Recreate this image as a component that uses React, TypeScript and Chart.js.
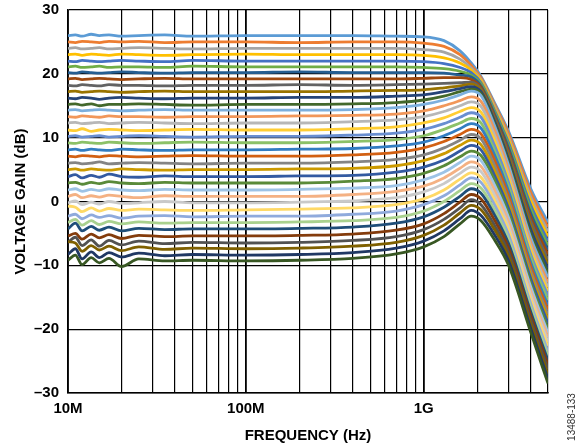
import React, { useEffect, useRef } from 'react';
import { Chart, registerables } from 'chart.js';

Chart.register(...registerables);

// Frequency points (MHz)
const FREQ_MHZ = [10, 11, 12, 13.5, 15, 17, 20, 25, 35, 50, 100, 200, 400, 700, 1000, 1300, 1600, 1850, 2100, 2500, 3000, 4000, 5000];

// Voltage gain (dB) per gain setting, top to bottom
const gain26 = [26.0, 26.1, 25.9, 26.2, 26.0, 26.1, 25.9, 26.0, 26.1, 25.9, 26.0, 26.0, 26.0, 25.9, 25.8, 25.2, 23.6, 21.7, 19.6, 15.5, 11.0, 2.0, -3.3];
const gain25 = [25.0, 24.9, 25.1, 25.0, 24.9, 25.1, 25.0, 25.1, 24.9, 25.0, 25.0, 24.9, 25.0, 25.0, 24.8, 24.3, 23.0, 21.3, 19.4, 15.2, 10.6, 1.4, -4.0];
const gain24 = [24.0, 24.1, 23.9, 24.0, 24.1, 23.9, 24.0, 24.1, 24.0, 23.9, 24.0, 24.0, 24.0, 24.0, 23.8, 23.4, 22.3, 20.9, 19.1, 14.9, 10.1, 0.7, -4.7];
const gain23 = [23.0, 23.1, 22.9, 23.1, 23.0, 22.9, 23.1, 23.0, 22.9, 23.0, 23.1, 23.0, 23.0, 23.0, 22.9, 22.5, 21.7, 20.6, 18.9, 14.6, 9.7, 0.1, -5.5];
const gain22 = [22.0, 21.9, 22.1, 22.0, 21.9, 22.0, 22.1, 22.0, 21.9, 22.1, 22.0, 22.0, 22.0, 22.0, 21.9, 21.6, 21.0, 20.2, 18.6, 14.3, 9.2, -0.6, -6.2];
const gain21 = [21.1, 21.2, 21.0, 21.1, 21.2, 21.0, 21.1, 21.1, 21.0, 21.2, 21.1, 21.1, 21.1, 21.1, 21.0, 20.8, 20.4, 19.8, 18.4, 14.0, 8.8, -1.2, -6.9];
const gain20 = [20.2, 20.1, 20.3, 20.2, 20.1, 20.2, 20.3, 20.2, 20.1, 20.2, 20.2, 20.3, 20.2, 20.2, 20.2, 20.1, 19.8, 19.5, 18.1, 13.7, 8.4, -1.9, -7.6];
const gain19 = [19.2, 19.3, 19.1, 19.2, 19.3, 19.2, 19.1, 19.2, 19.3, 19.2, 19.2, 19.2, 19.2, 19.2, 19.3, 19.4, 19.4, 19.1, 17.9, 13.4, 7.9, -2.5, -8.3];
const gain18 = [18.2, 18.1, 18.3, 18.2, 18.1, 18.3, 18.2, 18.2, 18.1, 18.2, 18.2, 18.3, 18.2, 18.3, 18.4, 18.5, 18.6, 18.7, 17.6, 13.1, 7.5, -3.1, -9.1];
const gain17 = [17.2, 17.3, 17.1, 17.2, 17.3, 17.2, 17.1, 17.2, 17.3, 17.2, 17.2, 17.2, 17.3, 17.4, 17.5, 17.8, 18.1, 18.4, 17.4, 12.8, 7.0, -3.8, -9.8];
const gain16 = [16.2, 16.1, 16.3, 16.2, 16.0, 16.2, 16.3, 16.2, 16.1, 16.2, 16.2, 16.3, 16.3, 16.5, 16.7, 17.2, 17.7, 18.0, 17.2, 12.6, 6.6, -4.4, -10.5];
const gain15 = [15.2, 15.3, 15.1, 15.3, 15.0, 15.2, 15.2, 15.3, 15.2, 15.1, 15.2, 15.2, 15.3, 15.5, 15.9, 16.5, 17.2, 17.6, 16.9, 12.2, 6.1, -5.1, -11.2];
const gain14 = [14.3, 14.4, 14.2, 14.3, 14.4, 14.3, 14.2, 14.3, 14.4, 14.3, 14.3, 14.3, 14.4, 14.7, 15.2, 15.9, 16.7, 17.3, 16.6, 11.9, 5.7, -5.7, -11.9];
const gain13 = [13.3, 13.2, 13.4, 13.3, 13.2, 13.4, 13.3, 13.3, 13.2, 13.3, 13.3, 13.4, 13.5, 13.7, 14.2, 15.0, 15.8, 16.4, 15.7, 11.2, 5.0, -6.4, -12.7];
const gain12 = [12.3, 12.4, 12.2, 12.3, 12.4, 12.2, 12.3, 12.4, 12.3, 12.2, 12.3, 12.3, 12.5, 12.8, 13.3, 14.1, 15.0, 15.6, 14.9, 10.4, 4.3, -7.0, -13.4];
const gain11 = [11.2, 11.1, 11.4, 11.0, 11.2, 11.3, 11.2, 11.1, 11.2, 11.3, 11.2, 11.2, 11.4, 11.7, 12.3, 13.1, 14.1, 14.7, 14.0, 9.6, 3.7, -7.6, -14.1];
const gain10 = [10.2, 10.3, 10.1, 10.2, 10.3, 10.1, 10.2, 10.3, 10.2, 10.1, 10.2, 10.2, 10.4, 10.7, 11.3, 12.2, 13.2, 13.9, 13.2, 8.8, 3.0, -8.3, -14.8];
const gain9 = [9.2, 9.1, 9.3, 9.2, 9.1, 9.3, 9.2, 9.1, 9.2, 9.3, 9.2, 9.2, 9.4, 9.7, 10.3, 11.3, 12.3, 13.0, 12.3, 8.0, 2.3, -8.9, -15.5];
const gain8 = [8.1, 8.2, 8.0, 8.2, 8.1, 8.0, 8.2, 8.1, 8.0, 8.1, 8.1, 8.2, 8.3, 8.7, 9.3, 10.3, 11.4, 12.2, 11.5, 7.3, 1.6, -9.6, -16.3];
const gain7 = [7.1, 7.0, 7.2, 7.1, 7.0, 7.2, 7.1, 7.0, 7.1, 7.2, 7.1, 7.1, 7.3, 7.7, 8.4, 9.4, 10.5, 11.3, 10.6, 6.5, 0.9, -10.2, -17.0];
const gain6 = [6.0, 6.1, 5.9, 6.0, 6.2, 5.9, 6.0, 6.1, 6.0, 5.9, 6.0, 6.0, 6.2, 6.6, 7.3, 8.4, 9.6, 10.5, 9.8, 5.7, 0.2, -10.9, -17.7];
const gain5 = [5.0, 5.1, 4.9, 5.1, 5.0, 4.9, 5.1, 5.0, 4.9, 5.0, 5.0, 5.1, 5.2, 5.6, 6.4, 7.5, 8.8, 9.6, 8.9, 4.9, -0.4, -11.5, -18.4];
const gain4 = [3.9, 4.2, 3.7, 4.1, 3.8, 4.3, 3.9, 3.8, 4.0, 3.9, 3.9, 4.0, 4.1, 4.6, 5.4, 6.5, 7.9, 8.8, 8.1, 4.1, -1.1, -12.1, -19.1];
const gain3 = [2.9, 3.0, 2.7, 3.0, 2.8, 3.1, 2.9, 2.8, 3.0, 2.9, 2.9, 2.9, 3.2, 3.6, 4.4, 5.6, 7.0, 7.9, 7.2, 3.4, -1.8, -12.8, -19.9];
const gain2 = [1.8, 2.0, 1.6, 1.9, 1.7, 2.0, 1.8, 1.7, 1.9, 1.8, 1.8, 1.9, 2.1, 2.5, 3.4, 4.6, 6.1, 7.1, 6.4, 2.6, -2.5, -13.4, -20.6];
const gain1 = [0.8, 1.1, 0.6, 0.9, 0.7, 1.0, 0.8, 0.6, 0.9, 0.8, 0.8, 0.8, 1.1, 1.6, 2.4, 3.7, 5.2, 6.2, 5.5, 1.8, -3.2, -14.1, -21.3];
const gain0 = [-0.2, 0.1, -0.5, -0.1, -0.4, 0.0, -0.3, -0.2, 0.0, -0.2, -0.2, -0.1, 0.1, 0.6, 1.5, 2.8, 4.4, 5.4, 4.7, 1.0, -3.9, -14.7, -22.0];
const gainM1 = [-0.7, -0.9, -1.6, -1.0, -1.5, -1.1, -1.4, -1.2, -1.3, -1.4, -1.3, -1.2, -1.0, -0.5, 0.4, 1.8, 3.5, 4.5, 3.8, 0.2, -4.5, -15.4, -22.7];
const gainM2 = [-2.3, -2.0, -2.7, -2.1, -2.5, -2.2, -2.6, -2.3, -2.2, -2.4, -2.3, -2.3, -2.0, -1.5, -0.5, 0.9, 2.6, 3.7, 3.0, -0.5, -5.2, -16.0, -23.5];
const gainM3 = [-3.3, -2.8, -3.7, -3.0, -3.6, -3.1, -3.5, -3.2, -3.4, -3.3, -3.3, -3.2, -3.0, -2.5, -1.5, 0.0, 1.7, 2.8, 2.1, -1.3, -5.9, -16.6, -24.2];
const gainM4 = [-4.3, -3.4, -4.6, -3.9, -4.5, -4.0, -4.6, -4.2, -4.4, -4.3, -4.3, -4.2, -4.0, -3.4, -2.4, -0.9, 0.8, 2.0, 1.3, -2.1, -6.6, -17.3, -24.9];
const gainM5 = [-5.4, -5.0, -5.9, -5.1, -5.7, -5.2, -5.8, -5.3, -5.5, -5.4, -5.4, -5.3, -5.1, -4.5, -3.5, -1.9, -0.1, 1.1, 0.4, -2.9, -7.3, -17.9, -25.6];
const gainM6 = [-6.4, -5.6, -6.9, -6.0, -7.0, -6.1, -6.8, -6.2, -6.6, -6.4, -6.5, -6.4, -6.1, -5.5, -4.4, -2.8, -1.0, 0.3, -0.5, -3.7, -8.0, -18.6, -26.3];
const gainM7 = [-6.3, -6.5, -7.8, -6.9, -7.6, -7.0, -7.7, -7.1, -7.5, -7.3, -7.4, -7.3, -7.0, -6.4, -5.3, -3.7, -1.8, -0.6, -1.3, -4.4, -8.6, -19.2, -27.1];
const gainM8 = [-8.3, -7.4, -9.0, -7.9, -8.8, -8.0, -8.7, -8.1, -8.5, -8.3, -8.4, -8.3, -8.0, -7.3, -6.2, -4.6, -2.7, -1.4, -2.2, -5.2, -9.3, -19.9, -27.8];
const gainM9 = [-9.2, -8.4, -9.9, -8.8, -9.6, -8.9, -10.2, -9.0, -9.3, -9.2, -9.3, -9.2, -8.9, -8.2, -7.1, -5.5, -3.5, -2.3, -3.0, -6.0, -10.0, -20.5, -28.5];

const CURVES = [
  gain26, gain25, gain24, gain23, gain22, gain21, gain20, gain19, gain18, gain17, gain16, gain15,
  gain14, gain13, gain12, gain11, gain10, gain9, gain8, gain7, gain6, gain5, gain4, gain3,
  gain2, gain1, gain0, gainM1, gainM2, gainM3, gainM4, gainM5, gainM6, gainM7, gainM8, gainM9,
];

const SERIES_COLORS = [
  '#5B9BD5', '#ED7D31', '#A5A5A5', '#FFC000', '#4472C4', '#70AD47',
  '#255E91', '#9E480E', '#636363', '#997300', '#264478', '#43682B',
  '#7CAFDD', '#F1975A', '#B7B7B7', '#FFCD33', '#698ED0', '#8CC168',
  '#327DC2', '#D26012', '#848484', '#CC9A00', '#335AA1', '#5A8A39',
  '#9DC3E6', '#F4B183', '#C9C9C9', '#FFD966', '#8FAADC', '#A9D18E',
  '#1F4E79', '#843C0C', '#525252', '#7F6000', '#203864', '#385723',
];

const X_TICKS_HZ = [
  1e7, 2e7, 3e7, 4e7, 5e7, 6e7, 7e7, 8e7, 9e7,
  1e8, 2e8, 3e8, 4e8, 5e8, 6e8, 7e8, 8e8, 9e8,
  1e9, 2e9, 3e9, 4e9, 5e9,
];
const X_LABEL_VALUES = [1e7, 1e8, 1e9];
const X_LABEL_TEXTS = ['10M', '100M', '1G'];
const Y_MIN = -30;
const Y_MAX = 30;
const Y_STEP = 10;

const FONT = '"Liberation Sans", Arial, Helvetica, sans-serif';

const watermark = {
  id: 'watermark',
  afterDraw(chart: any) {
    const ctx = chart.ctx;
    ctx.save();
    ctx.translate(572, 417);
    ctx.rotate(-Math.PI / 2);
    ctx.font = `10px ${FONT}`;
    ctx.fillStyle = '#333';
    ctx.textAlign = 'center';
    ctx.textBaseline = 'middle';
    ctx.fillText('13488-133', 0, 0);
    ctx.restore();
  },
};

export default function App() {
  const ref = useRef<HTMLCanvasElement | null>(null);

  useEffect(() => {
    if (!ref.current) return;
    const datasets = CURVES.map((curve, k) => ({
      label: `curve${k}`,
      data: curve.map((y, i) => ({ x: FREQ_MHZ[i] * 1e6, y })),
      borderColor: SERIES_COLORS[k],
      backgroundColor: SERIES_COLORS[k],
      borderWidth: 2.8,
      pointRadius: 0,
      fill: false,
      cubicInterpolationMode: 'monotone' as const,
      order: CURVES.length - 1 - k,
    }));

    const chart = new Chart(ref.current, {
      type: 'line',
      data: { datasets },
      plugins: [watermark],
      options: {
        animation: false,
        responsive: false,
        maintainAspectRatio: false,
        layout: { padding: { left: 0, right: 39, top: 10, bottom: 0 } },
        plugins: { legend: { display: false }, tooltip: { enabled: false } },
        scales: {
          x: {
            type: 'logarithmic',
            min: 1e7,
            max: 5e9,
            afterBuildTicks: (scale: any) => {
              scale.ticks = X_TICKS_HZ.map((v) => ({ value: v }));
            },
            afterFit: (scale: any) => {
              scale.height = 53;
              scale.paddingLeft = 0;
              scale.paddingRight = 0;
            },
            grid: {
              color: '#000',
              lineWidth: (ctx: any) =>
                ctx.tick && X_LABEL_VALUES.includes(ctx.tick.value) ? 1.8 : 1.2,
              drawTicks: false,
            },
            border: { display: true, color: '#000', width: 1.5 },
            ticks: {
              autoSkip: false,
              maxRotation: 0,
              padding: 7,
              color: '#000',
              font: { family: FONT, size: 15, weight: 'bold' },
              callback: (value: any) => {
                const idx = X_LABEL_VALUES.indexOf(Number(value));
                return idx >= 0 ? X_LABEL_TEXTS[idx] : '';
              },
            },
            title: {
              display: true,
              text: 'FREQUENCY (Hz)',
              color: '#000',
              font: { family: FONT, size: 15, weight: 'bold' },
              padding: { top: 0, bottom: 1 },
            },
          },
          y: {
            min: Y_MIN,
            max: Y_MAX,
            afterFit: (scale: any) => {
              scale.width = 68;
              scale.paddingTop = 0;
              scale.paddingBottom = 0;
            },
            grid: { color: '#000', lineWidth: 1.2, drawTicks: false },
            border: { display: true, color: '#000', width: 1.5 },
            ticks: {
              stepSize: Y_STEP,
              padding: 9,
              color: '#000',
              font: { family: FONT, size: 15, weight: 'bold' },
              callback: (value: any) => (Number(value) < 0 ? `\u2013${Math.abs(Number(value))}` : `${value}`),
            },
            title: {
              display: true,
              text: 'VOLTAGE GAIN (dB)',
              color: '#000',
              font: { family: FONT, size: 15, weight: 'bold' },
              padding: { top: 12, bottom: 0 },
            },
          },
        },
      } as any,
    });
    return () => chart.destroy();
  }, []);

  return (
    <div style={{ position: 'fixed', left: 0, top: 0, width: 587, height: 446, background: '#fff' }}>
      <canvas ref={ref} width={587} height={446} style={{ display: 'block' }} />
    </div>
  );
}
